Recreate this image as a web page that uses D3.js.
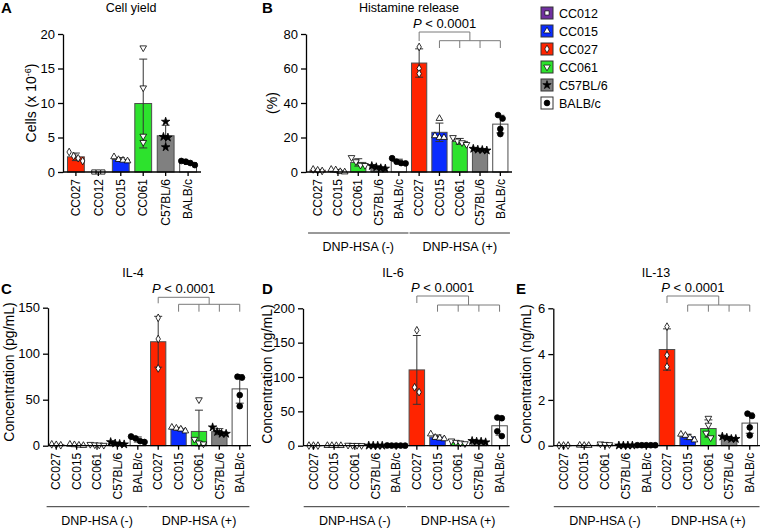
<!DOCTYPE html>
<html>
<head>
<meta charset="utf-8">
<script src="https://cdn.jsdelivr.net/npm/d3@7"></script>
<style>
  body { margin: 0; background: #fff; }
  svg { font-family: "Liberation Sans", Arial, Helvetica, sans-serif; }
</style>
</head>
<body>
<svg id="fig" width="762" height="528"></svg>
<script>
// ---- data (one value per mouse) ----
const strains = ["CC012", "CC015", "CC027", "CC061", "C57BL/6", "BALB/c"];

// A: cell yield, cells x 10^6
const yieldCategories = ["CC027", "CC012", "CC015", "CC061", "C57BL/6", "BALB/c"];
const yieldValues = [
  [2.9, 2.3, 1.6, 2.0],
  [0, 0, 0],
  [2.2, 1.8, 1.7, 1.6],
  [18.0, 12.2, 5.2, 4.3],
  [7.3, 5.1, 5.0, 3.6],
  [1.0, 1.5, 1.6, 1.3]
];

// B-E: same 5 strains, without / with DNP-HSA
const stimCategories = ["CC027", "CC015", "CC061", "C57BL/6", "BALB/c"];
const stimGroups = ["DNP-HSA (-)", "DNP-HSA (+)"];

const histamineNeg = [[1.5, 1.0, 0.6], [1.5, 1.2, 0.2, 0.0], [8.4, 6.0, 4.0, 3.8], [3.5, 2.8, 2.0, 2.2], [8.0, 6.0, 5.0, 5.2]];
const histaminePos = [[72.5, 60, 57], [31, 21, 20, 20], [20, 18, 17, 16], [13.5, 13, 12.8, 12.5], [33, 31, 25, 22]];

const il4Neg = [[0.5, 1.5, 1.0], [0.5, 1.0, 1.5, 0.2], [0.5, 1.5, 1.0, 0.8], [4, 2.5, 2, 1.5], [10, 8, 5, 4]];
const il4Pos = [[139, 116, 84], [20, 19, 18, 16], [50, 7, 3, 2], [20, 15, 13, 13], [74, 75, 55, 43]];

const il6Neg = [[0.2, 0.1, 0.2], [0.2, 0.1, 0.1, 0.2], [0.8, 0.5, 0.3, 0.5], [0.2, 0.1, 0.2, 0.1], [0.3, 0.2, 0.2, 0.1, 0.2]];
const il6Pos = [[168, 78, 85], [17, 12, 11, 10], [7, 5, 4, 3], [7, 6, 6, 5], [41, 40, 21, 14]];

const il13Neg = [[0.01, 0.01, 0.01], [0.02, 0.01, 0.01], [0.08, 0.05, 0.06], [0.01, 0.01, 0.01, 0.01], [0.02, 0.02, 0.02, 0.02, 0.02]];
const il13Pos = [[5.2, 3.95, 3.45], [0.5, 0.45, 0.35, 0.25], [1.2, 0.9, 0.55, 0.35], [0.4, 0.35, 0.3, 0.3], [1.4, 1.3, 0.8, 0.45]];

const pLabel = "< 0.0001";

// ---- styles ----
const strainFill = {
  "CC012": "#7030a0", "CC015": "#0a2cff", "CC027": "#ff2400",
  "CC061": "#2de22d", "C57BL/6": "#808080", "BALB/c": "#ffffff"
};
const strainMark = {
  "CC012": { type: d3.symbolSquare, fill: "#fff", rot: 0, size: 18 },
  "CC015": { type: d3.symbolTriangle, fill: "#fff", rot: 0, size: 19 },
  "CC027": { type: d3.symbolDiamond, fill: "#fff", rot: 0, size: 17 },
  "CC061": { type: d3.symbolTriangle, fill: "#fff", rot: 180, size: 19 },
  "C57BL/6": { type: d3.symbolStar, fill: "#000", rot: 0, size: 22 },
  "BALB/c": { type: d3.symbolCircle, fill: "#000", rot: 0, size: 26 }
};

const svg = d3.select("#fig");

function drawPanel(p) {
  const g = svg.append("g");
  const n = p.labels.length;
  const x = d3.scaleBand().domain(d3.range(n)).range([p.left, p.right])
    .paddingInner(0.25).paddingOuter(p.outer);
  const y = d3.scaleLinear().domain([0, p.max]).range([p.bottom, p.top]);
  const bw = x.bandwidth();

  // panel letter + title
  g.append("text").attr("x", p.letterX).attr("y", p.letterY)
    .style("font-weight", "bold").style("font-size", "15px").text(p.letter);
  g.append("text").attr("x", p.titleX).attr("y", p.titleY)
    .attr("text-anchor", "middle").style("font-size", "12.5px").text(p.title);

  // bars, error bars, points
  p.series.forEach((vals, i) => {
    const strain = p.labels[i];
    const m = d3.mean(vals);
    const sd = vals.length > 1 ? d3.deviation(vals) : 0;
    const cx = x(i) + bw / 2;
    g.append("rect")
      .attr("x", x(i)).attr("y", y(m))
      .attr("width", bw).attr("height", y(0) - y(m))
      .attr("fill", strainFill[strain]).attr("stroke", "#4d4d4d").attr("stroke-width", 1);
    if (sd > 0) {
      const lo = Math.max(0, m - sd), hi = m + sd;
      g.append("path")
        .attr("d", `M${cx},${y(lo)}V${y(hi)}M${cx - 4},${y(hi)}H${cx + 4}M${cx - 4},${y(lo)}H${cx + 4}`)
        .attr("stroke", "#333").attr("stroke-width", 1).attr("fill", "none");
    }
    // spread points that would overlap
    const pts = vals.map(v => ({ v, py: y(v) })).sort((a, b) => a.py - b.py);
    const clusters = [];
    pts.forEach(pt => {
      const last = clusters[clusters.length - 1];
      if (last && pt.py - last[last.length - 1].py < 5) last.push(pt);
      else clusters.push([pt]);
    });
    const mk = strainMark[strain];
    clusters.forEach(cl => {
      const k = cl.length;
      const sp = k > 1 ? Math.min(4.5, (bw + 4) / (k - 1)) : 0;
      cl.forEach((pt, j) => {
        const px = cx + (j - (k - 1) / 2) * sp;
        g.append("path")
          .attr("d", d3.symbol().type(mk.type).size(mk.size)())
          .attr("transform", `translate(${px},${pt.py}) rotate(${mk.rot})`)
          .attr("fill", mk.fill).attr("stroke", "#000").attr("stroke-width", 0.8);
      });
    });
  });

  // axes
  const ya = g.append("g").attr("transform", `translate(${p.left},0)`)
    .call(d3.axisLeft(y).tickValues(p.ticks).tickFormat(d3.format("d"))
      .tickSize(5).tickPadding(3).tickSizeOuter(0));
  ya.selectAll("text").style("font-size", "13px").attr("fill", "#000");
  ya.selectAll("line, path").attr("stroke", "#000").attr("stroke-width", 1.3);

  const xa = g.append("g").attr("transform", `translate(0,${p.bottom})`)
    .call(d3.axisBottom(x).tickFormat(i => p.labels[i]).tickSize(4).tickSizeOuter(0));
  xa.select(".domain").attr("d", `M${p.left},0H${p.axisEnd}`);
  xa.selectAll("line, path").attr("stroke", "#000").attr("stroke-width", 1.3);
  xa.selectAll("text")
    .attr("x", -7).attr("y", 0).attr("dy", "0.35em")
    .attr("transform", "rotate(-90)")
    .style("text-anchor", "end").style("font-size", "12px").attr("fill", "#000");

  // y title
  const yt = g.append("text")
    .attr("transform", `translate(${p.yTitleX},${p.yTitleY}) rotate(-90)`)
    .attr("text-anchor", "middle").style("font-size", "14px");
  p.yTitle(yt);

  // stimulation groups underneath
  if (p.groups) {
    const half = n / 2;
    p.groups.forEach((name, gi) => {
      const a = gi * half, b = a + half - 1;
      const x0 = x(a) - 2, x1 = x(b) + bw + 2;
      g.append("line").attr("x1", x0).attr("x2", x1)
        .attr("y1", p.groupLineY).attr("y2", p.groupLineY)
        .attr("stroke", "#333").attr("stroke-width", 1);
      g.append("text").attr("x", (x0 + x1) / 2).attr("y", p.groupLineY + 18)
        .attr("text-anchor", "middle").style("font-size", "12.5px").text(name);
    });
  }

  // significance bracket: CC027(+) vs the other (+) strains
  if (p.bracket) {
    const b = p.bracket;
    const c = i => x(i) + bw / 2;
    const left = c(5), r0 = c(6), r1 = c(9), mid = (r0 + r1) / 2;
    let d = `M${left},${b.leftEnd}V${b.top}H${mid}V${b.sub}M${r0},${b.sub}H${r1}`;
    [6, 7, 8, 9].forEach(i => { d += `M${c(i)},${b.sub}V${b.tickEnd}`; });
    g.append("path").attr("d", d).attr("fill", "none")
      .attr("stroke", "#7a7a7a").attr("stroke-width", 1);
    const t = g.append("text").attr("x", (left + mid) / 2).attr("y", b.top - 4)
      .attr("text-anchor", "middle").style("font-size", "13px");
    t.append("tspan").style("font-style", "italic").text("P");
    t.append("tspan").text(" " + pLabel);
  }
}

const stimLabels = stimCategories.concat(stimCategories);
const simpleTitle = s => sel => sel.text(s);

drawPanel({
  letter: "A", letterX: 1, letterY: 13, title: "Cell yield", titleX: 131, titleY: 12,
  labels: yieldCategories, series: yieldValues,
  left: 63, right: 201, axisEnd: 201, outer: 0.2, top: 34, bottom: 172,
  max: 20, ticks: [0, 5, 10, 15, 20], yTitleX: 36, yTitleY: 103,
  yTitle: sel => {
    sel.append("tspan").text("Cells (x 10");
    sel.append("tspan").attr("baseline-shift", "super").style("font-size", "9px").text("-6");
    sel.append("tspan").text(")");
  }
});

drawPanel({
  letter: "B", letterX: 262, letterY: 13, title: "Histamine release", titleX: 409, titleY: 12,
  labels: stimLabels, series: histamineNeg.concat(histaminePos), groups: stimGroups,
  left: 306, right: 512, axisEnd: 512, outer: 0.2, top: 34, bottom: 172,
  max: 80, ticks: [0, 20, 40, 60, 80], yTitleX: 277, yTitleY: 103,
  yTitle: simpleTitle("(%)"), groupLineY: 233,
  bracket: { top: 32, sub: 40.7, tickEnd: 48, leftEnd: 41 }
});

drawPanel({
  letter: "C", letterX: 1, letterY: 294, title: "IL-4", titleX: 133, titleY: 277,
  labels: stimLabels, series: il4Neg.concat(il4Pos), groups: stimGroups,
  left: 48, right: 248, axisEnd: 251, outer: 0.03, top: 307.7, bottom: 445.7,
  max: 150, ticks: [0, 50, 100, 150], yTitleX: 14, yTitleY: 372,
  yTitle: simpleTitle("Concentration (pg/mL)"), groupLineY: 506.7,
  bracket: { top: 297.3, sub: 304.3, tickEnd: 311.7, leftEnd: 303.3 }
});

drawPanel({
  letter: "D", letterX: 262, letterY: 294, title: "IL-6", titleX: 393, titleY: 277,
  labels: stimLabels, series: il6Neg.concat(il6Pos), groups: stimGroups,
  left: 303, right: 510, axisEnd: 510, outer: 0.13, top: 308.3, bottom: 445.7,
  max: 200, ticks: [0, 50, 100, 150, 200], yTitleX: 272, yTitleY: 374,
  yTitle: simpleTitle("Concentration (ng/mL)"), groupLineY: 506.7,
  bracket: { top: 296, sub: 305, tickEnd: 311.7, leftEnd: 303 }
});

drawPanel({
  letter: "E", letterX: 516, letterY: 294, title: "IL-13", titleX: 656, titleY: 277,
  labels: stimLabels, series: il13Neg.concat(il13Pos), groups: stimGroups,
  left: 553.3, right: 760, axisEnd: 760, outer: 0.12, top: 308.3, bottom: 445.7,
  max: 6, ticks: [0, 2, 4, 6], yTitleX: 531, yTitleY: 374,
  yTitle: simpleTitle("Concentration (ng/mL)"), groupLineY: 506.7,
  bracket: { top: 296, sub: 305, tickEnd: 311.7, leftEnd: 303 }
});

// legend
const lg = svg.append("g").attr("transform", "translate(541,7)");
strains.forEach((s, i) => {
  const row = lg.append("g").attr("transform", `translate(0,${i * 18})`);
  row.append("rect").attr("width", 12).attr("height", 12)
    .attr("fill", strainFill[s]).attr("stroke", "#333").attr("stroke-width", 1);
  const mk = strainMark[s];
  row.append("path")
    .attr("d", d3.symbol().type(mk.type).size(mk.size)())
    .attr("transform", `translate(6,6) rotate(${mk.rot})`)
    .attr("fill", mk.fill).attr("stroke", "#000").attr("stroke-width", 0.7);
  row.append("text").attr("x", 18).attr("y", 10.5).style("font-size", "12.5px").text(s);
});
</script>
</body>
</html>
